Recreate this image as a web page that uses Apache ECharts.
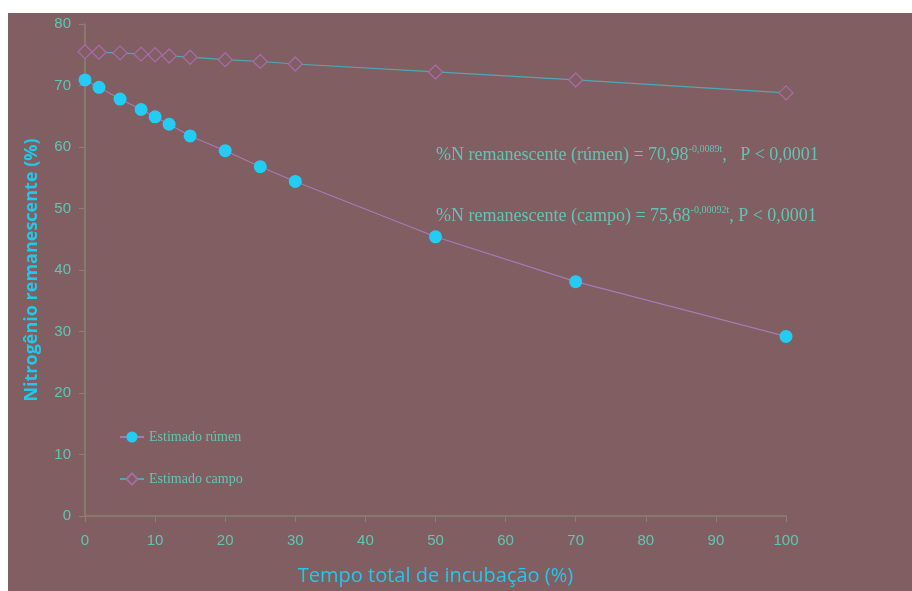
<!DOCTYPE html>
<html>
<head>
<meta charset="utf-8">
<script src="https://cdn.jsdelivr.net/npm/echarts@6/dist/echarts.min.js"></script>
<style>
html,body{margin:0;padding:0;background:#ffffff;}
#bg{position:absolute;left:8px;top:13px;width:904px;height:578px;background:#805e62;}
#chart{position:absolute;left:0;top:0;width:912px;height:591px;}
</style>
</head>
<body>
<div id="bg"></div>
<div id="chart"></div>
<script>
const tempo = [0, 2, 5, 8, 10, 12, 15, 20, 25, 30, 50, 70, 100];
const rumen = [70.9, 69.7, 67.8, 66.1, 64.9, 63.7, 61.8, 59.4, 56.8, 54.4, 45.4, 38.1, 29.2];
const campo = [75.5, 75.4, 75.3, 75.1, 75.0, 74.8, 74.6, 74.2, 73.9, 73.5, 72.2, 70.9, 68.8];
const seriesNames = ['Estimado rúmen', 'Estimado campo'];
const eqRumen = ['%N remanescente (rúmen) = 70,98', '-0,0089t', ',   P < 0,0001'];
const eqCampo = ['%N remanescente (campo) = 75,68', '-0,00092t', ', P < 0,0001'];

const chart = echarts.init(document.getElementById('chart'));
const textCol = '#62c4b4';
const axisCol = '#8c8272';
const richStyle = {
  a: {fill: textCol, fontSize: 18, fontFamily: 'Liberation Serif, serif'},
  s: {fill: textCol, fontSize: 10, fontFamily: 'Liberation Serif, serif', verticalAlign: 'top', padding: [0, 0, 12, 0]}
};
chart.setOption({
  backgroundColor: 'transparent',
  animation: false,
  grid: {left: 85, right: 126, top: 24, bottom: 74},
  xAxis: {
    type: 'value', min: 0, max: 100, interval: 10,
    name: 'Tempo total de incubação (%)', nameLocation: 'middle', nameGap: 50,
    nameTextStyle: {color: '#22c8ea', fontSize: 20, fontFamily: 'Liberation Sans Narrow, Open Sans, sans-serif'},
    axisLine: {lineStyle: {color: axisCol, width: 1.5}},
    axisTick: {show: true, length: 6, lineStyle: {color: axisCol}},
    splitLine: {show: false},
    axisLabel: {color: textCol, fontSize: 15, margin: 17, fontFamily: 'Liberation Sans Narrow, sans-serif'}
  },
  yAxis: {
    type: 'value', min: 0, max: 80, interval: 10,
    name: 'Nitrogênio remanescente (%)', nameLocation: 'middle', nameGap: 44,
    nameTextStyle: {color: '#22c8ea', fontSize: 18, fontWeight: 'bold', fontFamily: 'Liberation Sans Narrow, Open Sans, sans-serif'},
    axisLine: {show: true, lineStyle: {color: axisCol, width: 1.5}},
    axisTick: {show: true, length: 6, lineStyle: {color: axisCol}},
    splitLine: {show: false},
    axisLabel: {color: textCol, fontSize: 15, margin: 14, fontFamily: 'Liberation Sans Narrow, sans-serif'}
  },
  legend: {
    orient: 'vertical', left: 114, top: 425, itemGap: 28,
    itemWidth: 24, itemHeight: 14,
    textStyle: {color: textCol, fontSize: 14, fontFamily: 'Liberation Serif, serif'},
    data: seriesNames
  },
  series: [
    {
      name: seriesNames[0], type: 'line',
      data: tempo.map((t, i) => [t, rumen[i]]),
      symbol: 'circle', symbolSize: 13,
      itemStyle: {color: '#22ccf5'},
      lineStyle: {color: '#a77ab5', width: 1.2}
    },
    {
      name: seriesNames[1], type: 'line',
      data: tempo.map((t, i) => [t, campo[i]]),
      symbol: 'diamond', symbolSize: 14,
      itemStyle: {color: '#805e62', borderColor: '#a86aa8', borderWidth: 1.3},
      lineStyle: {color: '#4fa8b8', width: 1.2}
    }
  ],
  graphic: [
    {
      type: 'text', left: 436, top: 144,
      style: {
        text: '{a|' + eqRumen[0] + '}{s|' + eqRumen[1] + '}{a|' + eqRumen[2] + '}',
        rich: richStyle
      }
    },
    {
      type: 'text', left: 436, top: 205,
      style: {
        text: '{a|' + eqCampo[0] + '}{s|' + eqCampo[1] + '}{a|' + eqCampo[2] + '}',
        rich: richStyle
      }
    }
  ]
});
</script>
</body>
</html>
